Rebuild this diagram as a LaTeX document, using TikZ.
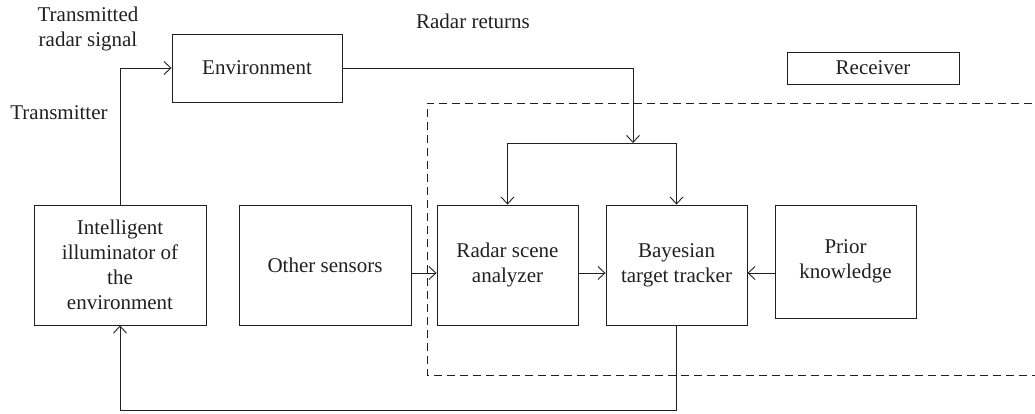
\documentclass[tikz,border=0pt]{standalone}
\usepackage{fontspec}
\setmainfont{Liberation Serif}
\usetikzlibrary{arrows.meta}
\definecolor{ink}{HTML}{231F20}
\tikzset{
  blk/.style={draw=ink, line width=0.9pt, text=ink, align=center, inner sep=0pt,
    font=\fontsize{21}{25}\selectfont},
  lbl/.style={text=ink, align=center, inner sep=0pt, font=\fontsize{21}{25}\selectfont},
  conn/.style={draw=ink, line width=0.9pt},
  arr/.style={conn, -{Straight Barb[length=7pt,width=13pt,line width=0.9pt]}},
  bound/.style={draw=ink, line width=0.9pt, dash pattern=on 8pt off 5pt}
}
\begin{document}
\begin{tikzpicture}[x=1pt,y=-1pt]
\useasboundingbox (0,0) rectangle (1035,414);

% boxes
\node[blk, minimum width=170pt, minimum height=68pt] (env) at (257,68) {Environment};
\node[blk, minimum width=172pt, minimum height=32pt] (recv) at (873,68) {Receiver};
\node[blk, minimum width=172pt, minimum height=120pt] (illum) at (120,265)
  {Intelligent\\illuminator of\\the\\environment};
\node[blk, minimum width=172pt, minimum height=120pt] (osens) at (325,265) {Other sensors};
\node[blk, minimum width=141pt, minimum height=120pt] (rsa) at (507.5,265) {Radar scene\\analyzer};
\node[blk, minimum width=141pt, minimum height=120pt] (btt) at (676.5,265) {Bayesian\\target tracker};
\node[blk, minimum width=141pt, minimum height=113pt] (prior) at (845.5,261.5) {Prior\\knowledge};

% labels
\node[lbl] (txsig) at (88,29) {Transmitted\\radar signal};
\node[lbl] (tx) at (59,113) {Transmitter};
\node[lbl] (rret) at (473,21) {Radar returns};

% receiver boundary
\draw[bound] (1045,103) -- (427,103) -- (427,375) -- (1045,375);

% helper points
\coordinate (row) at (0,273);
\coordinate (split) at (633,143);
\coordinate (bus) at (0,410);

% transmitter path
\draw[arr] (illum.north) |- (env.west);

% radar returns and split
\draw[arr] (env.east) -| (split);
\draw[arr] (split) -| (rsa.north);
\draw[arr] (split) -| (btt.north);

% horizontal flow
\draw[arr] (osens.east |- row) -- (rsa.west |- row);
\draw[arr] (rsa.east |- row) -- (btt.west |- row);
\draw[arr] (prior.west |- row) -- (btt.east |- row);

% feedback to the illuminator
\draw[arr] (btt.south) |- (bus -| illum.south) -- (illum.south);
\end{tikzpicture}
\end{document}
